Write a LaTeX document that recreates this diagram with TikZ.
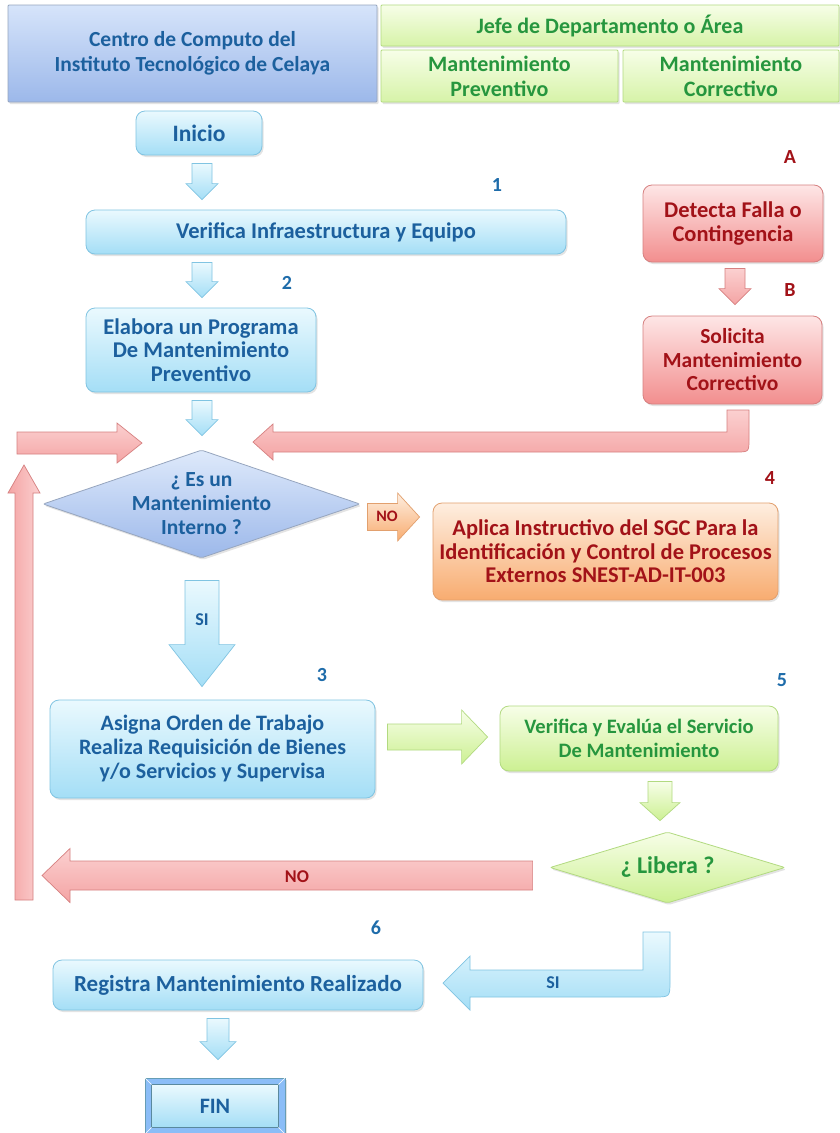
\documentclass[tikz,border=0pt]{standalone}
\usepackage{fontspec}
\setmainfont{Carlito}
\usetikzlibrary{calc,shapes.geometric,shadows}
\definecolor{bluetxt}{RGB}{28,96,158}
\definecolor{cyantop}{RGB}{234,249,254}
\definecolor{cyanbot}{RGB}{164,222,246}
\definecolor{cyanbrd}{RGB}{128,196,226}
\definecolor{redtop}{RGB}{254,230,230}
\definecolor{redbot}{RGB}{242,142,142}
\definecolor{redbrd}{RGB}{214,128,128}
\definecolor{redtxt}{RGB}{162,18,24}
\definecolor{orgtop}{RGB}{254,238,224}
\definecolor{orgbot}{RGB}{248,172,112}
\definecolor{orgbrd}{RGB}{226,160,110}
\definecolor{grntop}{RGB}{247,254,232}
\definecolor{grnbot}{RGB}{204,240,146}
\definecolor{grnbrd}{RGB}{178,218,128}
\definecolor{grntxt}{RGB}{38,150,62}
\definecolor{hdrtop}{RGB}{214,228,250}
\definecolor{hdrbot}{RGB}{156,184,234}
\definecolor{hdrbrd}{RGB}{150,165,190}
\definecolor{numblue}{RGB}{30,108,170}
\definecolor{darrtop}{RGB}{251,208,208}
\definecolor{darrbot}{RGB}{244,164,164}
\newcommand\txtf{\bfseries\fontsize{22.5}{23.5}\selectfont}
\newcommand\varr[6]{\path[#1] let \p1=#2, \p2=#3 in
 (\x1-#4,\y1) -- (\x1-#4,\y2+#6) -- (\x1-#5,\y2+#6) -- (\x1,\y2) -- (\x1+#5,\y2+#6) -- (\x1+#4,\y2+#6) -- (\x1+#4,\y1) -- cycle;}
\newcommand\harr[6]{\path[#1] let \p1=#2, \p2=#3 in
 (\x1,\y1-#4) -- (\x2+#6,\y1-#4) -- (\x2+#6,\y1-#5) -- (\x2,\y1) -- (\x2+#6,\y1+#5) -- (\x2+#6,\y1+#4) -- (\x1,\y1+#4) -- cycle;}
\begin{document}
\begin{tikzpicture}[x=1pt,y=-1pt,
 base/.style={rounded corners=9pt, line width=0.8pt, align=center, font=\txtf, inner sep=0pt,
   drop shadow={opacity=0.22, shadow xshift=1.5pt, shadow yshift=-2pt}},
 cyanbox/.style={base, draw=cyanbrd, top color=cyantop, bottom color=cyanbot, text=bluetxt},
 redbox/.style={base, draw=redbrd, top color=redtop, bottom color=redbot, text=redtxt},
 orgbox/.style={base, draw=orgbrd, top color=orgtop, bottom color=orgbot, text=redtxt},
 grnbox/.style={base, draw=grnbrd, top color=grntop, bottom color=grnbot, text=grntxt},
 hdrbox/.style={base, rounded corners=1pt, draw=hdrbrd, top color=hdrtop, bottom color=hdrbot, text=bluetxt,
   font=\bfseries\fontsize{21.5}{25}\selectfont},
 hdrgrn/.style={base, rounded corners=1pt, draw=grnbrd, top color=grntop, bottom color=grnbot!80!white, text=grntxt,
   font=\bfseries\fontsize{22}{25}\selectfont},
 dia/.style={diamond, base, rounded corners=2pt},
 cyanarr/.style={draw=cyanbrd, line width=0.7pt, top color=cyantop, bottom color=cyanbot},
 pinkarr/.style={draw=redbrd, line width=0.7pt, top color=darrtop, bottom color=darrbot},
 pinkvarr/.style={draw=redbrd, line width=0.7pt, left color=darrbot, right color=darrtop},
 orgarr/.style={draw=orgbrd, line width=0.7pt, top color=orgtop, bottom color=orgbot},
 grnarr/.style={draw=grnbrd, line width=0.7pt, top color=grntop, bottom color=grnbot},
 bnum/.style={font=\bfseries\fontsize{20}{22}\selectfont, text=numblue},
 rnum/.style={font=\bfseries\fontsize{20}{22}\selectfont, text=redtxt},
 albl/.style={font=\bfseries\fontsize{18}{20}\selectfont},
]
\useasboundingbox (0,0) rectangle (840,1133);
\fill[white] (0,0) rectangle (840,1133);

% header
\node[hdrbox, minimum width=369pt, minimum height=97pt] (hL) at (192.5,53.5) {Centro de Computo del\\Instituto Tecnológico de Celaya};
\node[hdrgrn, minimum width=458pt, minimum height=41pt] (hJ) at (610,25.5) {Jefe de Departamento o Área};
\node[hdrgrn, minimum width=237pt, minimum height=52pt] (hP) at (499.5,76) {Mantenimiento\\Preventivo};
\node[hdrgrn, minimum width=216pt, minimum height=52pt] (hC) at (731,76) {Mantenimiento\\Correctivo};

% boxes
\node[cyanbox, font=\bfseries\fontsize{23.5}{25}\selectfont, minimum width=126pt, minimum height=44pt] (inicio) at (199,133) {Inicio};
\node[cyanbox, minimum width=480pt, minimum height=44pt] (verif) at (326,232) {Verifica Infraestructura y Equipo};
\node[cyanbox, minimum width=230pt, minimum height=84pt] (elabora) at (201,350) {Elabora un Programa\\De Mantenimiento\\Preventivo};
\node[redbox, minimum width=180pt, minimum height=77pt] (detecta) at (733,223.5) {Detecta Falla o\\Contingencia};
\node[redbox, font=\bfseries\fontsize{21.5}{23.5}\selectfont, minimum width=179pt, minimum height=88pt] (solicita) at (732.5,360) {Solicita\\Mantenimiento\\Correctivo};
\node[dia, draw=hdrbrd, top color=hdrtop!80!white, bottom color=hdrbot,
      minimum width=317pt, minimum height=108pt] (interno) at (201.5,504) {};
\node[font=\bfseries\fontsize{21.5}{24}\selectfont, text=bluetxt, align=center] (internotxt) at (interno.center) {¿ Es un\\Mantenimiento\\Interno ?};
\node[orgbox, minimum width=345pt, minimum height=97pt] (externo) at (605.5,551.5) {Aplica Instructivo del SGC Para la\\Identificación y Control de Procesos\\Externos SNEST-AD-IT-003};
\node[cyanbox, font=\bfseries\fontsize{22}{24}\selectfont, minimum width=325pt, minimum height=98pt] (asigna) at (212.5,749) {Asigna Orden de Trabajo\\Realiza Requisición de Bienes\\y/o Servicios y Supervisa};
\node[grnbox, font=\bfseries\fontsize{20.5}{24}\selectfont, minimum width=278pt, minimum height=65pt] (verev) at (639,738.5) {Verifica y Evalúa el Servicio\\De Mantenimiento};
\node[dia, draw=grnbrd, top color=grntop, bottom color=grnbot,
      minimum width=235pt, minimum height=71pt] (libera) at (667.5,867.5) {};
\node[font=\bfseries\fontsize{24}{26}\selectfont, text=grntxt] (liberatxt) at (libera.center) {¿ Libera ?};
\node[cyanbox, font=\bfseries\fontsize{23}{26}\selectfont, minimum width=370pt, minimum height=50pt] (registra) at (238,985) {Registra Mantenimiento Realizado};
\node[base, rounded corners=0pt, draw=cyanbrd!80!black, fill=cyanbot!85!blue,
      minimum width=140pt, minimum height=56pt] (fin) at (215,1106) {};
\shade[top color=cyantop, bottom color=cyanbot] ($(fin.north west)+(7,7)$) rectangle ($(fin.south east)+(-7,-7)$);
\draw[cyanbrd!70!black, line width=0.6pt] ($(fin.north west)+(7,7)$) rectangle ($(fin.south east)+(-7,-7)$);
\draw[white, line width=0.6pt] (fin.north west) -- ($(fin.north west)+(7,7)$) (fin.north east) -- ($(fin.north east)+(-7,7)$)
  (fin.south west) -- ($(fin.south west)+(7,-7)$) (fin.south east) -- ($(fin.south east)+(-7,-7)$);
\node[font=\bfseries\fontsize{22}{24}\selectfont, text=bluetxt] (fintxt) at (fin.center) {FIN};

% numbers
\node[bnum] (n1) at (497,185) {1};
\node[bnum] (n2) at (287,283) {2};
\node[rnum] (nA) at (790,157) {A};
\node[rnum] (nB) at (790,290) {B};
\node[rnum] (n4) at (770,478) {4};
\node[bnum] (n3) at (322,675) {3};
\node[bnum] (n5) at (782,680) {5};
\node[bnum] (n6) at (376,928) {6};

% straight block arrows
\varr{cyanarr}{($(inicio.south)+(3,8)$)}{($(verif.north)+(0,-10)$)}{10pt}{16pt}{16pt}
\varr{cyanarr}{($(verif.south)+(-124,8)$)}{($(elabora.north)+(0,-10)$)}{10pt}{16pt}{16pt}
\varr{cyanarr}{($(elabora.south)+(1,8)$)}{($(interno.north)+(0,-14)$)}{10pt}{16pt}{16pt}
\varr{pinkarr}{($(detecta.south)+(2,6)$)}{($(solicita.north)+(0,-11)$)}{10pt}{16pt}{16pt}
\varr{cyanarr}{($(interno.south)+(0.5,22)$)}{($(asigna.north)+(0,-13)$)}{17pt}{33pt}{42pt}
\node[albl, text=bluetxt] (silbl) at (202,620) {SI};
\harr{orgarr}{($(interno.east)+(7,13)$)}{($(externo.west)+(-13,0)$)}{13.5pt}{24pt}{-22pt}
\node[font=\bfseries\fontsize{16}{18}\selectfont, text=redtxt] (nolbl1) at (387,516) {NO};
\harr{grnarr}{($(asigna.east)+(12,-12)$)}{($(verev.west)+(-12,0)$)}{13pt}{27pt}{-26pt}
\varr{grnarr}{($(verev.south)+(21,10)$)}{($(libera.north)+(0,-11)$)}{12pt}{20pt}{18pt}
\coordinate (noend) at (42,876);
\harr{pinkarr}{($(libera.west)+(-17,8)$)}{(noend)}{14.5pt}{27pt}{28pt}
\node[albl, text=redtxt] (nolbl2) at (297,877) {NO};
\coordinate (loopbot) at (24,900);
\coordinate (looptop) at (24,465);
\varr{pinkvarr}{(loopbot)}{(looptop)}{9pt}{16pt}{-28pt}
\coordinate (loopl) at (17,443);
\coordinate (loopr) at (142,443);
\harr{pinkarr}{(loopl)}{(loopr)}{11pt}{20pt}{-25pt}
\varr{cyanarr}{($(registra.south)+(-20,8)$)}{($(fin.north)+(0,-18)$)}{11pt}{18pt}{18pt}

% bent arrows
\path[pinkarr] (727,410) -- (727,432) -- (273,432) -- (273,424) -- (253,442) -- (273,460) -- (273,452)
  -- (736,452) .. controls (749,452) .. (749,439) -- (749,410) -- cycle;
\path[cyanarr] (643,932) -- (643,970) -- (470,970) -- (470,956) -- (443,983) -- (470,1010) -- (470,997)
  -- (654,997) .. controls (670,997) .. (670,981) -- (670,932) -- cycle;
\node[albl, text=bluetxt] (silbl2) at (553,983) {SI};
\end{tikzpicture}
\end{document}
